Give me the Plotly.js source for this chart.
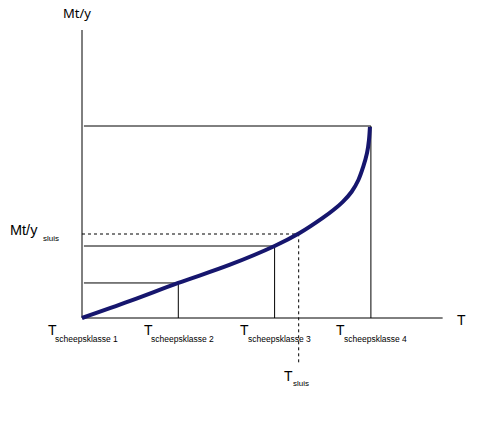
<!DOCTYPE html>
<html>
<head>
<meta charset="utf-8">
<script src="https://cdn.plot.ly/plotly-3.0.1.min.js"></script>
<style>html,body{margin:0;padding:0;background:#fff;}#chart{width:479px;height:438px;}</style>
</head>
<body>
<div id="chart"></div>
<script>
// Ship classes (T) and their capacities (Mt/y), arbitrary units
const klasseLabels = ["scheepsklasse 1", "scheepsklasse 2", "scheepsklasse 3", "scheepsklasse 4"];
const klasseT = [0, 1, 2, 3];
const klasseMt = [0, 1.46, 3.0, 8.0];
// Lock (sluis)
const sluisT = 2.25;
const sluisMt = 3.5;
// Capacity curve
const curveT  = [0, 0.5, 1.0, 1.53, 2.0, 2.26, 2.5, 2.61, 2.71, 2.8, 2.87, 2.92, 2.96, 2.98, 2.99];
const curveMt = [0, 0.71, 1.46, 2.21, 3.0, 3.54, 4.17, 4.5, 4.85, 5.26, 5.75, 6.3, 6.88, 7.42, 7.96];
// Axis extents
const axisTmax = 3.745;
const axisMtmax = 12;

const black = {color: "#000", width: 1};
const traces = [];
// axes
traces.push({x: [0, 0], y: [0, axisMtmax], mode: "lines", line: black, hoverinfo: "skip"});
traces.push({x: [0, axisTmax], y: [0, 0], mode: "lines", line: black, hoverinfo: "skip"});
// guide lines for classes 2..4
for (let i = 1; i < klasseT.length; i++) {
  traces.push({x: [0.02, klasseT[i], klasseT[i]], y: [klasseMt[i], klasseMt[i], 0],
    mode: "lines", line: black, hoverinfo: "skip"});
}
// sluis dotted guides
traces.push({x: [0, sluisT, sluisT], y: [sluisMt, sluisMt, -1.92], mode: "lines",
  line: {color: "#000", width: 1, dash: "dot"}, hoverinfo: "skip"});
// curve
traces.push({x: curveT, y: curveMt, mode: "lines", line: {color: "#16166e", width: 4, shape: "spline", smoothing: 1}, hoverinfo: "skip"});

const bigFont = {family: "Liberation Sans, Arial, sans-serif", size: 14, color: "#000"};
const subFont = {family: "Liberation Sans, Arial, sans-serif", size: 8.5, color: "#000"};
const smallSub = {family: "Liberation Sans, Arial, sans-serif", size: 8, color: "#000"};
const ann = [];
function a(x, y, text, font, xanchor, xshift, yshift) {
  ann.push({x: x, y: y, xref: "x", yref: "y", text: text, showarrow: false, font: font,
    xanchor: xanchor, yanchor: "middle", xshift: xshift, yshift: yshift, borderpad: 0, borderwidth: 0});
}
for (let i = 0; i < klasseT.length; i++) {
  a(klasseT[i], 0, "T", bigFont, "center", -30, -12);
  a(klasseT[i], 0, klasseLabels[i], subFont, "left", -27, -21);
}
a(axisTmax, 0, "T", bigFont, "center", 19, -2);
a(sluisT, 0, "T", bigFont, "center", -10, -58);
a(sluisT, 0, "sluis", smallSub, "left", -6, -65);
a(0, sluisMt, "Mt/y", {family: "Liberation Sans, Arial, sans-serif", size: 14.5, color: "#000"}, "left", -72, 4);
a(0, sluisMt, "sluis", smallSub, "left", -39, -4);
a(0, axisMtmax, "Mt/y", {family: "Noto Sans, Open Sans, sans-serif", size: 13, color: "#000"}, "center", -5.5, 17);

const layout = {
  width: 479, height: 438,
  margin: {l: 0, r: 0, t: 0, b: 0},
  paper_bgcolor: "#fff", plot_bgcolor: "#fff",
  showlegend: false,
  xaxis: {range: [-0.8515, 4.1225], visible: false, fixedrange: true},
  yaxis: {range: [-5.0, 13.25], visible: false, fixedrange: true},
  annotations: ann
};
Plotly.newPlot("chart", traces, layout, {staticPlot: true, displayModeBar: false});
</script>
</body>
</html>
